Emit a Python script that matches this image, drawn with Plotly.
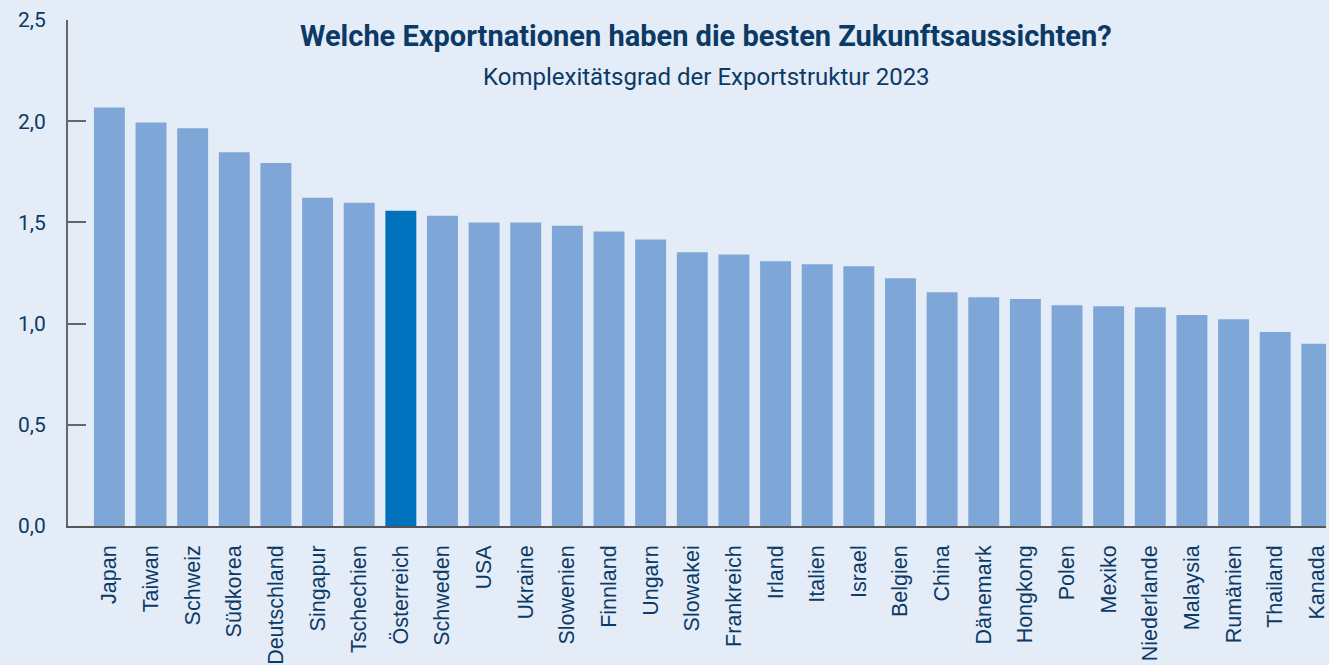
import plotly.graph_objects as go

countries = ["Japan", "Taiwan", "Schweiz", "Südkorea", "Deutschland", "Singapur", "Tschechien",
             "Österreich", "Schweden", "USA", "Ukraine", "Slowenien", "Finnland", "Ungarn",
             "Slowakei", "Frankreich", "Irland", "Italien", "Israel", "Belgien", "China",
             "Dänemark", "Hongkong", "Polen", "Mexiko", "Niederlande", "Malaysia", "Rumänien",
             "Thailand", "Kanada"]
values = [2.068, 1.994, 1.965, 1.847, 1.793, 1.622, 1.597, 1.558, 1.533, 1.499, 1.499, 1.484,
          1.455, 1.416, 1.352, 1.342, 1.308, 1.293, 1.283, 1.224, 1.155, 1.130, 1.121, 1.091,
          1.086, 1.081, 1.042, 1.022, 0.959, 0.900]
highlight = "Österreich"
y_ticks = [0.0, 0.5, 1.0, 1.5, 2.0, 2.5]
y_ticklabels = ["0,0", "0,5", "1,0", "1,5", "2,0", "2,5"]
title = "Welche Exportnationen haben die besten Zukunftsaussichten?"
subtitle = "Komplexitätsgrad der Exportstruktur 2023"

BG = "#e4ecf7"
NAVY = "#0b3a66"
colors = ["#0071bc" if c == highlight else "#7ea7d8" for c in countries]

fig = go.Figure(go.Bar(
    x=countries, y=values, marker=dict(color=colors, line=dict(width=0)),
    width=0.743,
))

fig.update_layout(
    width=1329, height=665,
    margin=dict(l=68, r=0, t=20, b=135, pad=0),
    paper_bgcolor=BG, plot_bgcolor=BG,
    showlegend=False,
    font=dict(family="Roboto, sans-serif", color=NAVY),
    annotations=[
        dict(text="<b>" + title + "</b>", xref="paper", yref="paper", x=0.5075, y=0.968,
             xanchor="center", yanchor="middle", showarrow=False,
             font=dict(family="Roboto", size=29, color=NAVY)),
        dict(text=subtitle, xref="paper", yref="paper", x=0.5075, y=0.887,
             xanchor="center", yanchor="middle", showarrow=False,
             font=dict(family="Roboto", size=24, color=NAVY)),
    ],
)

fig.update_xaxes(
    range=[-0.994, 29.22], showgrid=False, zeroline=False,
    showline=True, linecolor="#555555", linewidth=1.5,
    ticks="", tickangle=-90, ticklabelstandoff=9,
    tickfont=dict(family="Liberation Sans, Arial", size=21.5, color=NAVY),
)
fig.update_yaxes(
    range=[0, 2.5], tickvals=y_ticks, ticktext=y_ticklabels,
    showgrid=False, zeroline=False,
    showline=True, linecolor="#666666", linewidth=2,
    ticks="inside", ticklen=18, tickwidth=1.5, tickcolor="#666666",
    ticklabelstandoff=16,
    tickfont=dict(family="Roboto", size=21, color=NAVY),
)

fig.write_html("out.html", config={"displayModeBar": False},
               post_script="document.body.style.margin='0';document.body.style.overflow='hidden';")
